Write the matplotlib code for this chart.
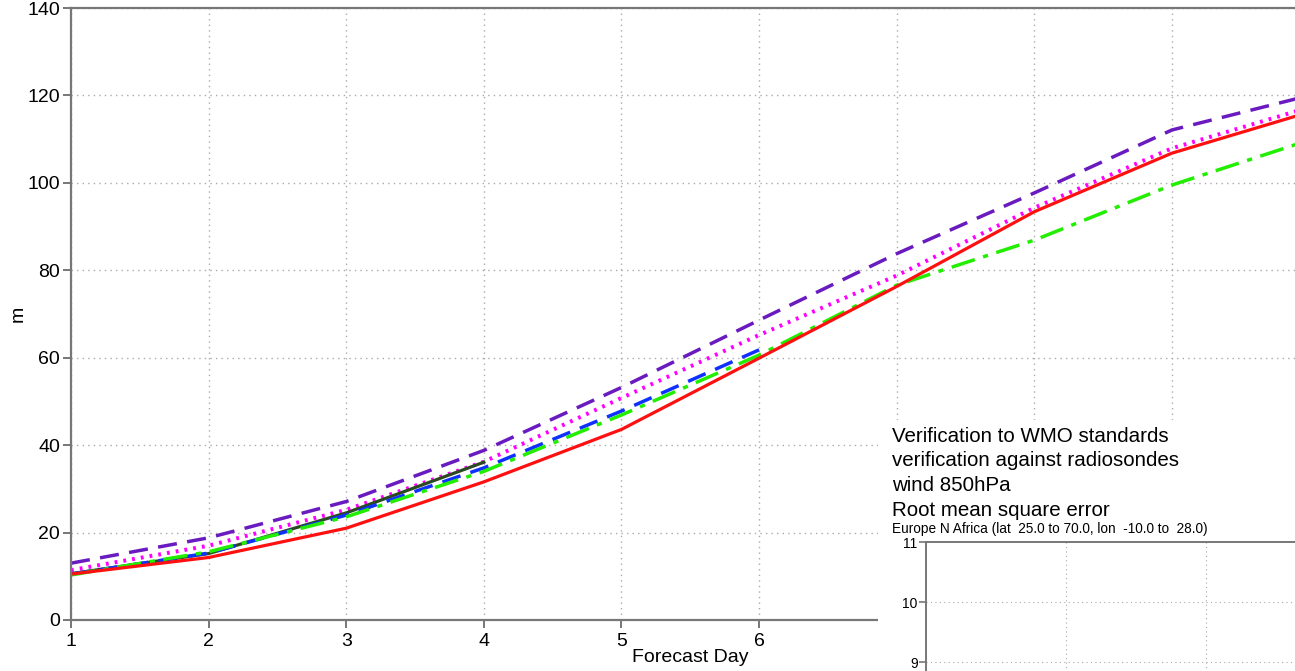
import matplotlib
matplotlib.use("Agg")
import matplotlib.pyplot as plt
from matplotlib.patches import Rectangle

plt.rcParams['font.family'] = ['Liberation Sans', 'DejaVu Sans']

# data
days = [1, 2, 3, 4, 5, 6, 7, 8, 9, 10]
purple = [13.0, 18.8, 27.1, 38.8, 53.2, 68.6, 83.8, 97.7, 112.1, 120.0]
magenta = [11.4, 17.0, 25.2, 36.2, 50.8, 65.2, 78.8, 94.3, 107.9, 117.3]
red = [10.5, 14.3, 21.0, 31.6, 43.6, 59.9, 76.3, 93.4, 106.8, 116.2]
green = [10.3, 15.6, 23.6, 34.0, 46.9, 60.6, 76.6, 86.9, 99.5, 109.8]
blue_days = [1, 2, 3, 4, 5, 6]
blue = [10.5, 15.3, 24.0, 34.8, 47.8, 61.8]
dkgreen_days = [1, 2, 3, 4]
dkgreen = [10.6, 15.2, 24.5, 36.1]

title_lines = ["Verification to WMO standards",
               "verification against radiosondes",
               "wind 850hPa",
               "Root mean square error"]
area = "Europe N Africa (lat  25.0 to 70.0, lon  -10.0 to  28.0)"

W, H = 1295, 671
fig = plt.figure(figsize=(W / 100, H / 100), dpi=100, facecolor='white')

# main axes (runs past the right edge like the cropped original)
ax = fig.add_axes([71 / W, (H - 620) / H, (1309.6 - 71) / W, (620 - 8) / H])
axcol = '#777777'
ax.plot(days, purple, color='#6a1bbf', lw=2.5, dashes=(5.5, 3))
ax.plot(days, magenta, color='#ff00ff', lw=2.9, linestyle=(0, (0.7, 1.5)))
ax.plot(dkgreen_days, dkgreen, color='#2b4a22', lw=2.3)
ax.plot(blue_days, blue, color='#1030ff', lw=2.5, dashes=(5.5, 3))
ax.plot(days, green, color='#22ee00', lw=2.5, dashes=(7, 2.5, 1.5, 2.5))
ax.plot(days, red, color='#ff1010', lw=2.3)

ax.set_xlim(1, 10)
ax.set_ylim(0, 140)
ax.set_xticks(days)
ax.set_xticklabels([str(d) for d in days[:-1]] + [''])
ax.set_yticks(range(0, 141, 20))
ax.tick_params(direction='out', length=6, width=1.4, color=axcol, labelsize=14, pad=2)
ax.tick_params(axis='x', pad=3)
for s in ['left', 'bottom', 'top', 'right']:
    ax.spines[s].set_color(axcol)
    ax.spines[s].set_linewidth(1.6)
ax.grid(True, color='#aaaaaa', linestyle=(0, (1, 3)), linewidth=1.0)
ax.set_axisbelow(True)
ax.set_xlabel('Forecast Day', fontsize=14, labelpad=0)
ax.set_ylabel('m', fontsize=14)
ax.yaxis.set_label_coords(-0.036, 0.5)

# white block for the inset panel
fig.patches.append(Rectangle((878 / W, 0), 1 - 878 / W, (H - 420) / H,
                             transform=fig.transFigure, facecolor='white',
                             edgecolor='none', zorder=5))

for i, line in enumerate(title_lines):
    fig.text(892 / W, (H - (442 + 24.5 * i)) / H, line, fontsize=14.8,
             va='baseline', ha='left', zorder=6)
fig.text(892 / W, (H - 533) / H, area, fontsize=9.8, va='baseline', ha='left', zorder=6)

# inset axes, mostly below the crop
ins = fig.add_axes([926 / W, (H - 902) / H, 420 / W, 360 / H], zorder=7)
ins.set_xlim(1, 4)
ins.set_ylim(5, 11)
ins.set_yticks([9, 10, 11])
ins.set_xticks([1, 2, 3, 4])
ins.set_xticklabels([])
ins.tick_params(direction='out', length=5, width=1.2, color=axcol, labelsize=10, pad=1)
for s in ['left', 'bottom', 'top', 'right']:
    ins.spines[s].set_color(axcol)
    ins.spines[s].set_linewidth(1.4)
ins.grid(True, color='#aaaaaa', linestyle=(0, (1, 3)), linewidth=0.8)

fig.savefig('out.png', dpi=100)
